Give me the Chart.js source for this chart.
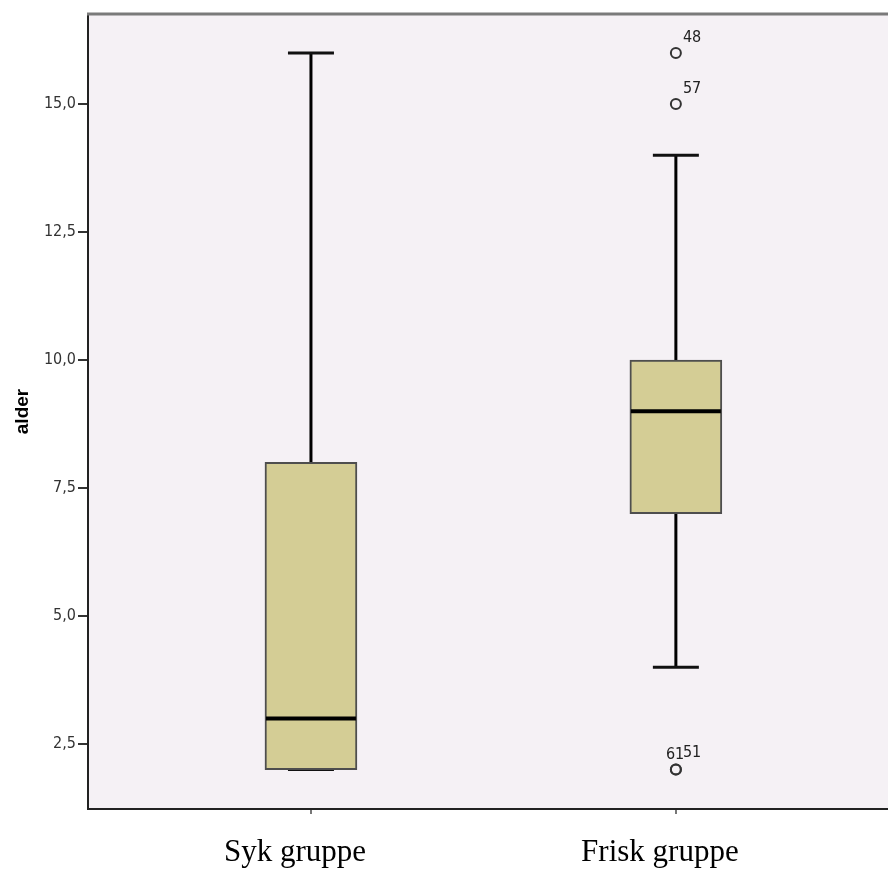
<!DOCTYPE html>
<html>
<head>
<meta charset="utf-8">
<script src="https://cdn.jsdelivr.net/npm/chart.js@4/dist/chart.umd.min.js"></script>
<style>
  html, body { margin: 0; padding: 0; background: #ffffff; overflow: hidden; }
  #wrap { width: 888px; height: 869px; overflow: hidden; position: relative; }
  canvas { display: block; }
</style>
</head>
<body>
<div id="wrap"><canvas id="c" width="900" height="869"></canvas></div>
<script>
// ---- data ----
const categories = ['Syk gruppe', 'Frisk gruppe'];
const whiskerLow  = [2, 4];
const q1          = [2, 7];
const medians     = [3, 9];
const q3          = [8, 10];
const whiskerHigh = [16, 14];
const outlierGroup  = [2, 2, 2, 2];        // category index (1-based)
const outlierValues = [16, 15, 2, 2];
const outlierLabels = ['48', '57', '61', '51'];
const yTicks = [2.5, 5, 7.5, 10, 12.5, 15];
const yTitle = 'alder';

// ---- derived datasets ----
const xs = categories.map((_, i) => i + 1);
const boxData = xs.map((x, i) => ({ x: x, y: [q1[i], q3[i]] }));
const whiskerData = [];
xs.forEach((x, i) => {
  whiskerData.push({ x: x, y: q3[i] }, { x: x, y: whiskerHigh[i] }, { x: x, y: null });
  whiskerData.push({ x: x, y: whiskerLow[i] }, { x: x, y: q1[i] }, { x: x, y: null });
});
const capData = [];
xs.forEach((x, i) => { capData.push({ x: x, y: whiskerHigh[i] }, { x: x, y: whiskerLow[i] }); });
const medianData = xs.map((x, i) => ({ x: x, y: medians[i] }));
const outlierData = outlierValues.map((v, i) => ({ x: outlierGroup[i], y: v }));

const narrow = "'Liberation Sans Narrow', 'DejaVu Sans Condensed', 'Liberation Sans', sans-serif";

const plotBg = {
  id: 'plotBg',
  beforeDraw(chart) {
    const a = chart.chartArea, ctx = chart.ctx;
    ctx.save();
    ctx.fillStyle = '#F5F1F5';
    ctx.fillRect(a.left, a.top, a.right - a.left, a.bottom - a.top);
    ctx.restore();
  },
  afterDraw(chart) {
    const a = chart.chartArea, ctx = chart.ctx;
    ctx.save();
    ctx.strokeStyle = '#7a7a7a';
    ctx.lineWidth = 3;
    ctx.beginPath();
    ctx.moveTo(a.left - 1, a.top);
    ctx.lineTo(chart.width, a.top);
    ctx.stroke();
    ctx.restore();
  }
};

const outlierText = {
  id: 'outlierText',
  afterDatasetsDraw(chart) {
    const idx = chart.data.datasets.findIndex(d => d.label === 'outliers');
    const meta = chart.getDatasetMeta(idx);
    const ctx = chart.ctx;
    ctx.save();
    ctx.font = '16px ' + narrow;
    ctx.fillStyle = '#222';
    ctx.textBaseline = 'alphabetic';
    ctx.textAlign = 'left';
    meta.data.forEach((pt, i) => {
      const same = [];
      outlierValues.forEach((v, j) => {
        if (v === outlierValues[i] && outlierGroup[j] === outlierGroup[i]) same.push(j);
      });
      const n = same.length, k = same.indexOf(i);
      const lx = pt.x + 7 + (k - (n - 1)) * 17;
      const ly = pt.y - 11 - k * 2;
      ctx.fillText(outlierLabels[i], lx, ly);
    });
    ctx.restore();
  }
};

new Chart(document.getElementById('c'), {
  type: 'bar',
  data: {
    datasets: [
      {
        type: 'line', label: 'whiskers', data: whiskerData,
        borderColor: '#000', borderWidth: 3, pointRadius: 0, spanGaps: false,
        order: 5
      },
      {
        type: 'scatter', label: 'caps', data: capData,
        pointStyle: 'line', pointRadius: 23, pointBorderColor: '#111', pointBorderWidth: 3,
        borderColor: '#111', order: 4
      },
      {
        type: 'bar', label: 'boxes', data: boxData,
        backgroundColor: '#D4CD95', borderColor: '#4e4e4e', borderWidth: 2,
        borderSkipped: false, barThickness: 92, order: 3
      },
      {
        type: 'scatter', label: 'medians', data: medianData,
        pointStyle: 'line', pointRadius: 45, pointBorderColor: '#000', pointBorderWidth: 4,
        borderColor: '#000', order: 2
      },
      {
        type: 'scatter', label: 'outliers', data: outlierData,
        pointStyle: 'circle', pointRadius: 5, pointBorderColor: '#333', pointBorderWidth: 2,
        pointBackgroundColor: 'rgba(0,0,0,0)', order: 1
      }
    ]
  },
  options: {
    responsive: false,
    animation: false,
    events: [],
    layout: { autoPadding: false, padding: { top: 14, right: 7, left: 0, bottom: 0 } },
    plugins: { legend: { display: false }, tooltip: { enabled: false } },
    scales: {
      x: {
        type: 'linear', min: 0.389, max: 2.595, offset: false,
        afterBuildTicks(s) { s.ticks = xs.map(v => ({ value: v })); },
        afterFit(s) { s.height = 60; s.paddingLeft = 0; s.paddingRight = 0; },
        grid: { display: true, offset: false, drawOnChartArea: false, drawTicks: true, tickLength: 5, color: '#777', lineWidth: 2 },
        border: { display: true, color: '#222', width: 2 },
        ticks: {
          callback: v => categories[v - 1],
          font: { family: "'Liberation Serif', 'Times New Roman', serif", size: 31 },
          color: '#000', padding: 20, labelOffset: -16, maxRotation: 0, autoSkip: false
        }
      },
      y: {
        type: 'linear', min: 1.23, max: 16.76,
        afterBuildTicks(s) { s.ticks = yTicks.map(v => ({ value: v })); },
        afterFit(s) { s.width = 88; s.paddingTop = 0; s.paddingBottom = 0; },
        grid: { display: true, drawOnChartArea: false, drawTicks: true, tickLength: 10, color: '#333', lineWidth: 2 },
        border: { display: true, color: '#222', width: 2 },
        title: {
          display: true, text: yTitle, color: '#000',
          font: { family: "'Liberation Sans', Arial, sans-serif", size: 19, weight: 'bold' },
          padding: { top: 11, bottom: 0 }
        },
        ticks: {
          callback: v => v.toFixed(1).replace('.', ','),
          font: { family: narrow, size: 16 },
          color: '#333', padding: 2
        }
      }
    }
  },
  plugins: [plotBg, outlierText]
});
</script>
</body>
</html>
